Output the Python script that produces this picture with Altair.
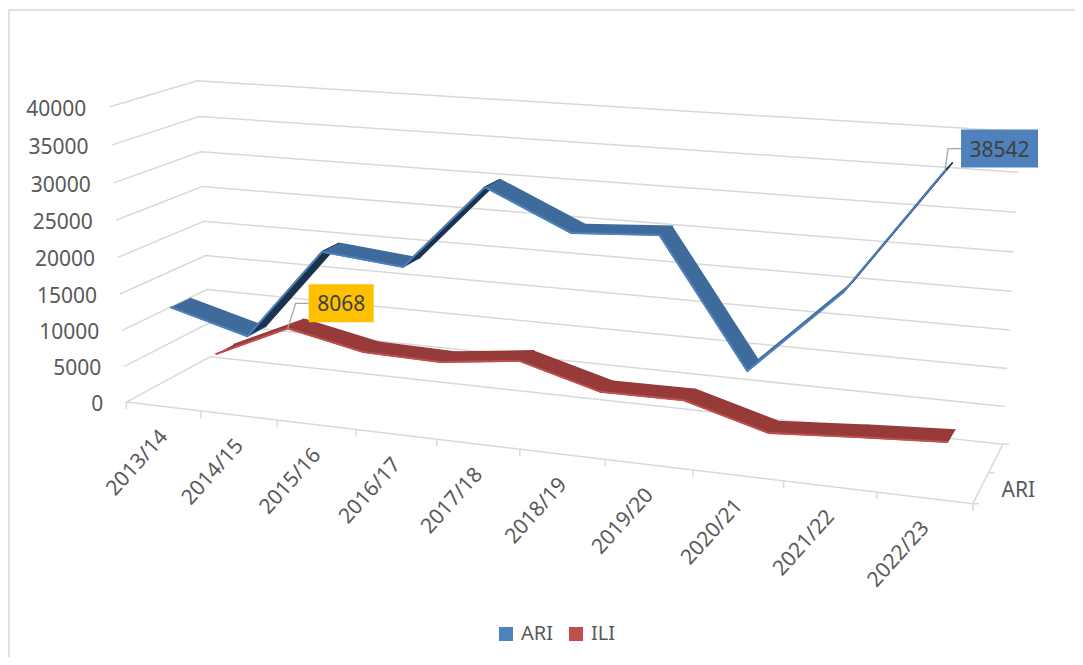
import numpy as np
import pandas as pd
import altair as alt

categories = ["2013/14","2014/15","2015/16","2016/17","2017/18","2018/19","2019/20","2020/21","2021/22","2022/23"]
ari = [12900, 10000, 22400, 21350, 32500, 27600, 28250, 12300, 23100, 38542]
ili = [3250, 8068, 5850, 5600, 6900, 3850, 3950, 800, 1600, 2250]
value_ticks = [0,5000,10000,15000,20000,25000,30000,35000,40000]
VMAX = 40000

# camera calibration: (x fraction, value fraction, depth fraction) -> screen
cal3 = [(0,0,0),(0,1,0),(0,0,1),(0,1,1),(1,0,1),(1,1,1),(1,0,0),
        (.1,0,0),(.2,0,0),(.3,0,0),(.4,0,0),(.5,0,0),(.6,0,0),(.7,0,0),(.8,0,0),(.9,0,0),
        (0,.5,1),(1,.5,1),(0,.5,0)]
cal2 = [(127,402),(109,107),(210,356),(198,81),(1003,444),(1021,132),(973,503),
        (201,411),(277,420),(356,430),(437,440),(520,450),(605,460),(693,471),(783,481),(877,491),
        (203,222),(1012,291),(118,256)]
A=[]
for (X_,Y_,Z_),(u,v) in zip(cal3,cal2):
    A.append([X_,Y_,Z_,1,0,0,0,0,-u*X_,-u*Y_,-u*Z_,-u])
    A.append([0,0,0,0,X_,Y_,Z_,1,-v*X_,-v*Y_,-v*Z_,-v])
P = np.linalg.svd(np.array(A,float))[2][-1].reshape(3,4)
def proj(x,val,d):
    h = P@np.array([x,val,d,1.0])
    return float(h[0]/h[2]), float(h[1]/h[2])

W,H=1067,649
xs=alt.Scale(domain=[8,8+W],range=[0,W])
ys=alt.Scale(domain=[8,8+H],range=[0,H])
X=alt.X('x:Q',scale=xs,axis=None); Y=alt.Y('y:Q',scale=ys,axis=None)

# grid
rows=[]
for t in value_ticks:
    f=t/VMAX
    for k,p in enumerate([proj(0,f,0),proj(0,f,1),proj(1,f,1)]):
        rows.append(dict(g=f"v{t}",k=k,x=p[0],y=p[1]))
for k,p in enumerate([proj(0,0,0),proj(1,0,0),proj(1,0,1)]):
    rows.append(dict(g="floor",k=k,x=p[0],y=p[1]))
for i in range(11):
    p=proj(i/10,0,0); rows+= [dict(g=f"t{i}",k=0,x=p[0],y=p[1]),dict(g=f"t{i}",k=1,x=p[0],y=p[1]+7)]
for d in (0,.5,1):
    p=proj(1,0,d); rows+= [dict(g=f"d{d}",k=0,x=p[0],y=p[1]),dict(g=f"d{d}",k=1,x=p[0]+6,y=p[1])]
grid=alt.Chart(pd.DataFrame(rows)).mark_line(color="#d9d9d9",strokeWidth=1.5).encode(X,Y,detail='g:N',order='k:Q')

# ribbons
def ribbon(vals,d1,d2,name,under,top,edge):
    q=[];e=[]
    for i in range(9):
        x0,x1=(i+.5)/10,(i+1.5)/10
        v0,v1=vals[i]/VMAX,vals[i+1]/VMAX
        pts_=[proj(x0,v0,d1),proj(x1,v1,d1),proj(x1,v1,d2),proj(x0,v0,d2)]
        area=sum(pts_[j][0]*pts_[(j+1)%4][1]-pts_[(j+1)%4][0]*pts_[j][1] for j in range(4))
        col= under if area>0 else top
        for k,p in enumerate(pts_):
            q.append(dict(g=f"{name}{i}",k=k,x=p[0],y=p[1],c=col))
    for i in range(10):
        p=proj((i+.5)/10,vals[i]/VMAX,d1)
        e.append(dict(series=name,k=i,x=p[0],y=p[1],c=edge))
    return q,e
q1,e1=ribbon(ili,.64,.86,"ILI","#A33F3D","#973B3A","#C0504D")
q2,e2=ribbon(ari,.14,.36,"ARI","#1C3350","#3F6B9C","#4F81BD")
quad=alt.Chart(pd.DataFrame(q1+q2)).mark_line(filled=True,strokeWidth=1.5).encode(X,Y,detail='g:N',order='k:Q',fill=alt.Fill('c:N',scale=None),stroke=alt.Stroke('c:N',scale=None))
cs=alt.Scale(domain=["ARI","ILI"],range=["#4F81BD","#C0504D"])
edges=alt.Chart(pd.DataFrame(e1+e2)).mark_line(strokeWidth=2).encode(X,Y,detail='series:N',order='k:Q',stroke=alt.Stroke('c:N',scale=None))
pts=alt.Chart(pd.DataFrame(e1+e2)).mark_square(size=2,filled=True,opacity=1).encode(X,Y,color=alt.Color('series:N',scale=cs,legend=alt.Legend(title=None,orient='none',legendX=488,legendY=616,direction='horizontal',symbolType='square',symbolSize=196,symbolOpacity=1,labelFontSize=20,labelFont='Noto Sans',labelColor='#595959',columnPadding=13,labelOffset=5,symbolStrokeWidth=0)))

# texts
FS=21
txt=[]
for t in value_ticks:
    p=proj(0,t/VMAX,0); txt.append(dict(x=p[0]-23,y=p[1]+3,t=f"{t}"))
ytext=alt.Chart(pd.DataFrame(txt)).mark_text(align='right',baseline='middle',font='Noto Sans',fontSize=FS,color='#595959').encode(X,Y,text='t:N')
lab=[]
for i,c in enumerate(categories):
    p=proj((i+.5)/10,0,0); lab.append(dict(x=p[0]+1,y=p[1]+27,t=c))
xtext=alt.Chart(pd.DataFrame(lab)).mark_text(align='right',baseline='middle',angle=312,font='Noto Sans',fontSize=FS,color='#595959').encode(X,Y,text='t:N')
p=proj(1,0,.5)
dlabel=alt.Chart(pd.DataFrame([dict(x=p[0]+13,y=p[1]+18,t="ARI")])).mark_text(align='left',baseline='middle',font='Noto Sans',fontSize=FS,color='#595959').encode(X,Y,text='t:N')

# data labels
e_ili=proj(1.5/10,ili[1]/VMAX,.64); e_ari=proj(9.5/10,ari[9]/VMAX,.14)
boxes=pd.DataFrame([
 dict(x=e_ili[0]+21,x2=e_ili[0]+86,y=e_ili[1]-44,y2=e_ili[1]-6,c="#FFC000",t=str(ili[1])),
 dict(x=e_ari[0]+16,x2=e_ari[0]+93,y=e_ari[1]-41,y2=e_ari[1]-3,c="#4F81BD",t=str(ari[9]))])
rect=alt.Chart(boxes).mark_rect().encode(X,alt.X2('x2:Q'),Y,alt.Y2('y2:Q'),fill=alt.Fill('c:N',scale=None))
boxes['xc']=(boxes.x+boxes.x2)/2; boxes['yc']=(boxes.y+boxes.y2)/2+2
rtext=alt.Chart(boxes).mark_text(font='Noto Sans',fontSize=FS,color='#404040').encode(alt.X('xc:Q',scale=xs,axis=None),alt.Y('yc:Q',scale=ys,axis=None),text='t:N')
lead=pd.DataFrame([
 dict(g='a',k=0,x=e_ili[0],y=e_ili[1]),dict(g='a',k=1,x=e_ili[0]+8,y=e_ili[1]-25),dict(g='a',k=2,x=e_ili[0]+21,y=e_ili[1]-25),
 dict(g='b',k=0,x=e_ari[0],y=e_ari[1]),dict(g='b',k=1,x=e_ari[0]+3,y=e_ari[1]-22),dict(g='b',k=2,x=e_ari[0]+16,y=e_ari[1]-22)])
leader=alt.Chart(lead).mark_line(color='#a6a6a6',strokeWidth=1.3).encode(X,Y,detail='g:N',order='k:Q')

border=pd.DataFrame([dict(k=0,x=9,y=700),dict(k=1,x=9,y=10),dict(k=2,x=1100,y=10)])
frame=alt.Chart(border).mark_line(color='#d9d9d9',strokeWidth=1.5,clip=True).encode(X,Y,order='k:Q')
head=alt.Chart(pd.DataFrame([dict(x=160,y=5,t="2013- 2023.")])).mark_text(align='left',baseline='alphabetic',font='Liberation Serif',fontStyle='italic',fontSize=16,color='black').encode(X,Y,text='t:N')

chart=alt.layer(frame,head,grid,ytext,xtext,dlabel,quad,edges,pts,leader,rect,rtext).properties(width=W,height=H,padding=0,autosize=alt.AutoSizeParams(type='none'),background='white').configure_view(stroke=None)
chart.save("out.html", embed_options={"renderer": "svg", "actions": False})
